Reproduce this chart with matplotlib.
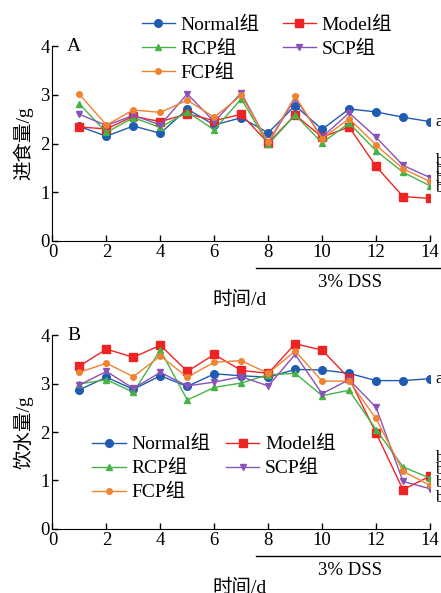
import numpy as np
import matplotlib
matplotlib.use("Agg")
import matplotlib.pyplot as plt

plt.rcParams['font.family'] = ['Liberation Serif', 'Noto Sans CJK SC']

# 天数
days = np.arange(1, 15)

# A: 进食量/g
food_normal = [2.35, 2.15, 2.36, 2.21, 2.71, 2.38, 2.53, 2.22, 2.78, 2.29, 2.71, 2.65, 2.54, 2.45]
food_model = [2.34, 2.30, 2.56, 2.45, 2.61, 2.47, 2.60, 2.01, 2.59, 2.13, 2.34, 1.53, 0.91, 0.87]
food_rcp = [2.81, 2.23, 2.53, 2.33, 2.65, 2.28, 2.92, 1.98, 2.59, 2.01, 2.42, 1.85, 1.41, 1.13]
food_scp = [2.60, 2.37, 2.58, 2.38, 3.02, 2.45, 3.04, 2.01, 2.93, 2.13, 2.63, 2.13, 1.55, 1.30]
food_fcp = [3.01, 2.38, 2.69, 2.64, 2.89, 2.54, 2.99, 2.03, 2.97, 2.10, 2.51, 1.97, 1.48, 1.22]

# B: 饮水量/g
water_normal = [2.87, 3.13, 2.88, 3.16, 2.94, 3.20, 3.16, 3.13, 3.29, 3.28, 3.21, 3.06, 3.06, 3.10]
water_model = [3.36, 3.71, 3.54, 3.79, 3.25, 3.60, 3.27, 3.21, 3.82, 3.69, 3.11, 1.98, 0.81, 1.09]
water_rcp = [2.99, 3.08, 2.82, 3.69, 2.66, 2.92, 3.01, 3.18, 3.21, 2.75, 2.86, 2.05, 1.28, 1.05]
water_scp = [2.97, 3.25, 2.90, 3.23, 2.95, 3.03, 3.14, 2.95, 3.60, 2.79, 3.08, 2.51, 0.98, 0.83]
water_fcp = [3.23, 3.42, 3.14, 3.57, 3.13, 3.44, 3.47, 3.21, 3.67, 3.05, 3.05, 2.28, 1.19, 0.90]

groups = ["Normal组", "Model组", "RCP组", "SCP组", "FCP组"]
colors = ["#1f5bb0", "#ee2424", "#45b345", "#8a52b8", "#f08232"]
markers = ["o", "s", "^", "v", "o"]
msizes = [5.5, 6, 5, 5, 4]

# 显著性字母
food_letters = ["a", "b", "b", "b", "b"]
food_letter_y = [2.45, 1.64, 1.46, 1.27, 1.09]
water_letters = ["a", "b", "b", "b", "b"]
water_letter_y = [3.10, 1.46, 1.22, 0.95, 0.64]

fig = plt.figure(figsize=(4.41, 5.93), dpi=100)
axA = fig.add_axes([0.119, 0.594, 0.856, 0.328])
axB = fig.add_axes([0.119, 0.108, 0.856, 0.327])


def draw(ax, series, ylabel, panel, letters, letter_y, xl_y):
    handles = []
    for vals, g, c, m, ms in zip(series, groups, colors, markers, msizes):
        h, = ax.plot(days, vals, color=c, marker=m, markersize=ms, lw=1.0, label=g)
        handles.append(h)
    ax.set_xlim(0, 14)
    ax.set_ylim(0, 4)
    ax.set_xticks(range(0, 15, 2))
    ax.set_yticks(range(0, 5))
    ax.spines['top'].set_visible(False)
    ax.spines['right'].set_visible(False)
    ax.tick_params(direction='in', length=4, labelsize=13.5, width=1, pad=2)
    ax.set_ylabel(ylabel, fontsize=14, labelpad=5)
    ax.text(0.55, 4, panel, fontsize=14, va='center', ha='left')
    for t, y in zip(letters, letter_y):
        ax.text(14.2, y, t, fontsize=12.5, va='center', ha='left', clip_on=False)
    tr = ax.get_xaxis_transform()
    ax.plot([7.55, 14.5], [-0.138, -0.138], color='black', lw=1, transform=tr, clip_on=False)
    ax.text(11.03, -0.215, "3% DSS", fontsize=13.5, ha='center', va='center', transform=tr)
    ax.set_xlabel("时间/d", fontsize=14)
    ax.xaxis.set_label_coords(0.496, xl_y)
    return handles


hA = draw(axA, [food_normal, food_model, food_rcp, food_scp, food_fcp], "进食量/g", "A",
          food_letters, food_letter_y, -0.255)
hB = draw(axB, [water_normal, water_model, water_rcp, water_scp, water_fcp], "饮水量/g", "B",
          water_letters, water_letter_y, -0.258)

order = [0, 2, 4, 1, 3]
axA.legend([hA[i] for i in order], [groups[i] for i in order], ncol=2, frameon=False,
           fontsize=14, handlelength=1.7, handletextpad=0.3, columnspacing=1.2,
           labelspacing=0.33, loc='upper left', bbox_to_anchor=(0.205, 1.215),
           borderpad=0.1)
axB.legend([hB[i] for i in order], [groups[i] for i in order], ncol=2, frameon=False,
           fontsize=14, handlelength=1.7, handletextpad=0.3, columnspacing=0.8,
           labelspacing=0.33, loc='upper left', bbox_to_anchor=(0.075, 0.541),
           borderpad=0.1)

fig.savefig("out.png", dpi=100)
